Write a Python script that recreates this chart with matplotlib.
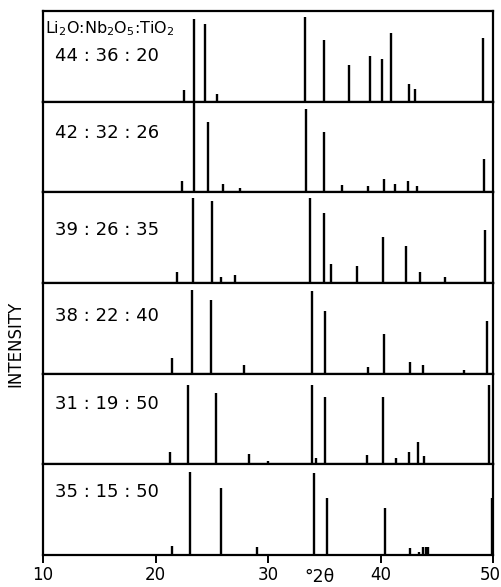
import numpy as np
import matplotlib
matplotlib.use("Agg")
import matplotlib.pyplot as plt
import matplotlib.transforms as mtransforms

# ---------------------------------------------------------
# DATA: peak positions (deg 2theta) and relative heights (%)
# ---------------------------------------------------------
labels = ["44 : 36 : 20", "42 : 32 : 26", "39 : 26 : 35",
          "38 : 22 : 40", "31 : 19 : 50", "35 : 15 : 50"]

pos_1 = [22.5, 23.4, 24.4, 25.5, 33.3, 35.0, 37.2, 39.1, 40.1, 40.9, 42.5, 43.1, 49.1]
int_1 = [13, 91, 86, 8, 93, 68, 40, 50, 47, 76, 19, 14, 70]

pos_2 = [22.4, 23.4, 24.7, 26.0, 27.5, 33.4, 35.0, 36.6, 38.9, 40.3, 41.3, 42.4, 43.2, 49.2]
int_2 = [13, 99, 78, 9, 5, 92, 66, 8, 7, 15, 9, 12, 7, 37]

pos_3 = [21.9, 23.3, 25.0, 25.8, 27.1, 33.7, 35.0, 35.6, 37.9, 40.2, 42.3, 43.5, 45.7, 49.3]
int_3 = [12, 94, 90, 7, 9, 94, 77, 21, 19, 51, 41, 12, 7, 59]

pos_4 = [21.5, 23.2, 24.9, 27.9, 33.9, 35.1, 38.9, 40.3, 42.6, 43.8, 47.4, 49.5]
int_4 = [17, 92, 81, 10, 91, 69, 7, 44, 13, 10, 4, 58]

pos_5 = [21.3, 22.9, 25.4, 28.3, 30.0, 33.9, 34.3, 35.1, 38.8, 40.2, 41.4, 42.5, 43.3, 43.9, 49.6]
int_5 = [14, 87, 79, 11, 4, 88, 7, 74, 10, 74, 7, 14, 25, 9, 87]

pos_6 = [21.5, 23.1, 25.8, 29.0, 34.1, 35.2, 40.4, 42.6, 43.4, 43.8, 44.0, 44.2, 49.95]
int_6 = [10, 92, 74, 9, 90, 63, 52, 8, 3, 9, 9, 9, 63]

positions = [pos_1, pos_2, pos_3, pos_4, pos_5, pos_6]
intensities = [int_1, int_2, int_3, int_4, int_5, int_6]

xticks = [10, 20, 30, 40, 50]

# ---------------------------------------------------------
# FIGURE
# ---------------------------------------------------------
plt.rcParams["font.family"] = ["DejaVu Sans"]
fig = plt.figure(figsize=(5.02, 5.87), dpi=100)

left, right = 43 / 502, 493 / 502
top, bottom = 1 - 11 / 587, 1 - 555 / 587
n = len(labels)
h = (top - bottom) / n

# vertical spot of the composition label inside each panel
label_y = [0.50, 0.65, 0.59, 0.64, 0.66, 0.70]

axes = []
for i in range(n):
    y0 = top - (i + 1) * h
    ax = fig.add_axes([left, y0, right - left, h])
    ax.vlines(positions[i], 0, intensities[i], color="black", linewidth=1.7)
    ax.set_xlim(10, 50)
    ax.set_ylim(0, 100)
    ax.set_yticks([])
    for s in ax.spines.values():
        s.set_linewidth(1.6)
    if i < n - 1:
        ax.set_xticks([])
    else:
        ax.set_xticks(xticks)
        ax.tick_params(axis="x", direction="out", length=6, width=1.4,
                       labelsize=12, pad=2)
    ax.text(0.027, label_y[i], labels[i], transform=ax.transAxes, fontsize=13,
            ha="left", va="center")
    axes.append(ax)

# nudge the "50" label so it stays inside the picture
last = axes[-1].get_xticklabels()[-1]
last.set_transform(last.get_transform() +
                   mtransforms.ScaledTranslation(-3 / 100, 0, fig.dpi_scale_trans))

axes[0].text(0.004, 0.80, r"Li$_2$O:Nb$_2$O$_5$:TiO$_2$", transform=axes[0].transAxes,
             fontsize=11.5, ha="left", va="center")

# x axis title sits between the 30 and 40 ticks, on the tick label line
fig.text(320 / 502, 1 - 577 / 587, "°2θ", fontsize=12.5, ha="center", va="center")

fig.text(15 / 502, 1 - 344 / 587, "INTENSITY", rotation=90, fontsize=12,
         ha="center", va="center")

fig.savefig("out.png", dpi=100)
